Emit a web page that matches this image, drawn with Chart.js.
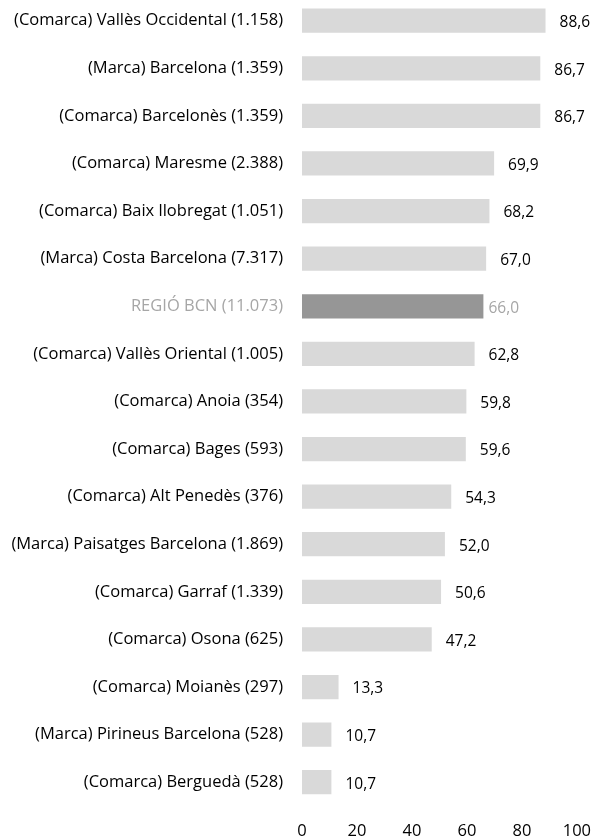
<!DOCTYPE html>
<html>
<head>
<meta charset="utf-8">
<script src="https://cdn.jsdelivr.net/npm/chart.js@4.4.1/dist/chart.umd.min.js"></script>
<style>
  html, body { margin: 0; padding: 0; background: #fff; overflow: hidden; }
  #wrap { position: absolute; left: 0; top: -32px; width: 606px; height: 870px; }
</style>
</head>
<body>
<div id="wrap"><canvas id="chart" width="606" height="870"></canvas></div>
<script>
const labels = [
    '(Comarca) Vallès Occidental (1.158)',
    '(Marca) Barcelona (1.359)',
    '(Comarca) Barcelonès (1.359)',
    '(Comarca) Maresme (2.388)',
    '(Comarca) Baix llobregat (1.051)',
    '(Marca) Costa Barcelona (7.317)',
    'REGIÓ BCN (11.073)',
    '(Comarca) Vallès Oriental (1.005)',
    '(Comarca) Anoia (354)',
    '(Comarca) Bages (593)',
    '(Comarca) Alt Penedès (376)',
    '(Marca) Paisatges Barcelona (1.869)',
    '(Comarca) Garraf (1.339)',
    '(Comarca) Osona (625)',
    '(Comarca) Moianès (297)',
    '(Marca) Pirineus Barcelona (528)',
    '(Comarca) Berguedà (528)'
]
const values = [88.6, 86.7, 86.7, 69.9, 68.2, 67.0, 66.0, 62.8, 59.8, 59.6, 54.3, 52.0, 50.6, 47.2, 13.3, 10.7, 10.7]
const xTicks = [0, 20, 40, 60, 80, 100]
const highlight = 6

const FONT = '"Open Sans", Lato, sans-serif'
const SIZE = 16.5
const isHi = i => i === highlight

// value labels beside each bar
const valueLabels = {
    id: 'valueLabels',
    afterDatasetsDraw(chart) {
        const ctx = chart.ctx
        const meta = chart.getDatasetMeta(0)
        ctx.save()
        ctx.font = '15.5px ' + FONT
        ctx.textAlign = 'left'
        ctx.textBaseline = 'middle'
        meta.data.forEach((bar, i) => {
            ctx.fillStyle = isHi(i) ? '#a6a6a6' : '#000'
            const txt = values[i].toFixed(1).replace('.', ',')
            ctx.fillText(txt, bar.x + (isHi(i) ? 5 : 14), bar.y + 2)
        })
        ctx.restore()
    }
}

new Chart(document.getElementById('chart'), {
    type: 'bar',
    data: {
        labels: labels,
        datasets: [{
            data: values,
            backgroundColor: values.map((v, i) => isHi(i) ? '#969696' : '#d9d9d9'),
            borderWidth: 0,
            barPercentage: 0.51,
            categoryPercentage: 1
        }]
    },
    options: {
        indexAxis: 'y',
        responsive: false,
        animation: false,
        devicePixelRatio: 1,
        layout: { padding: { top: 0, right: 7, left: 0, bottom: 0 } },
        plugins: { legend: { display: false }, tooltip: { enabled: false } },
        scales: {
            x: {
                min: 0,
                max: 100,
                afterBuildTicks: scale => { scale.ticks = xTicks.map(v => ({ value: v })) },
                afterFit: scale => { scale.height = 32 },
                grid: { display: false, drawTicks: false },
                border: { display: false },
                ticks: {
                    padding: 15,
                    color: '#000',
                    font: { family: FONT, size: SIZE }
                }
            },
            y: {
                afterFit: scale => { scale.width = 302 },
                grid: { display: false, drawTicks: false },
                border: { display: false },
                ticks: {
                    padding: 19,
                    autoSkip: false,
                    color: c => isHi(c.index) ? '#a6a6a6' : '#000',
                    font: { family: FONT, size: SIZE }
                }
            }
        }
    },
    plugins: [valueLabels]
})
</script>
</body>
</html>
